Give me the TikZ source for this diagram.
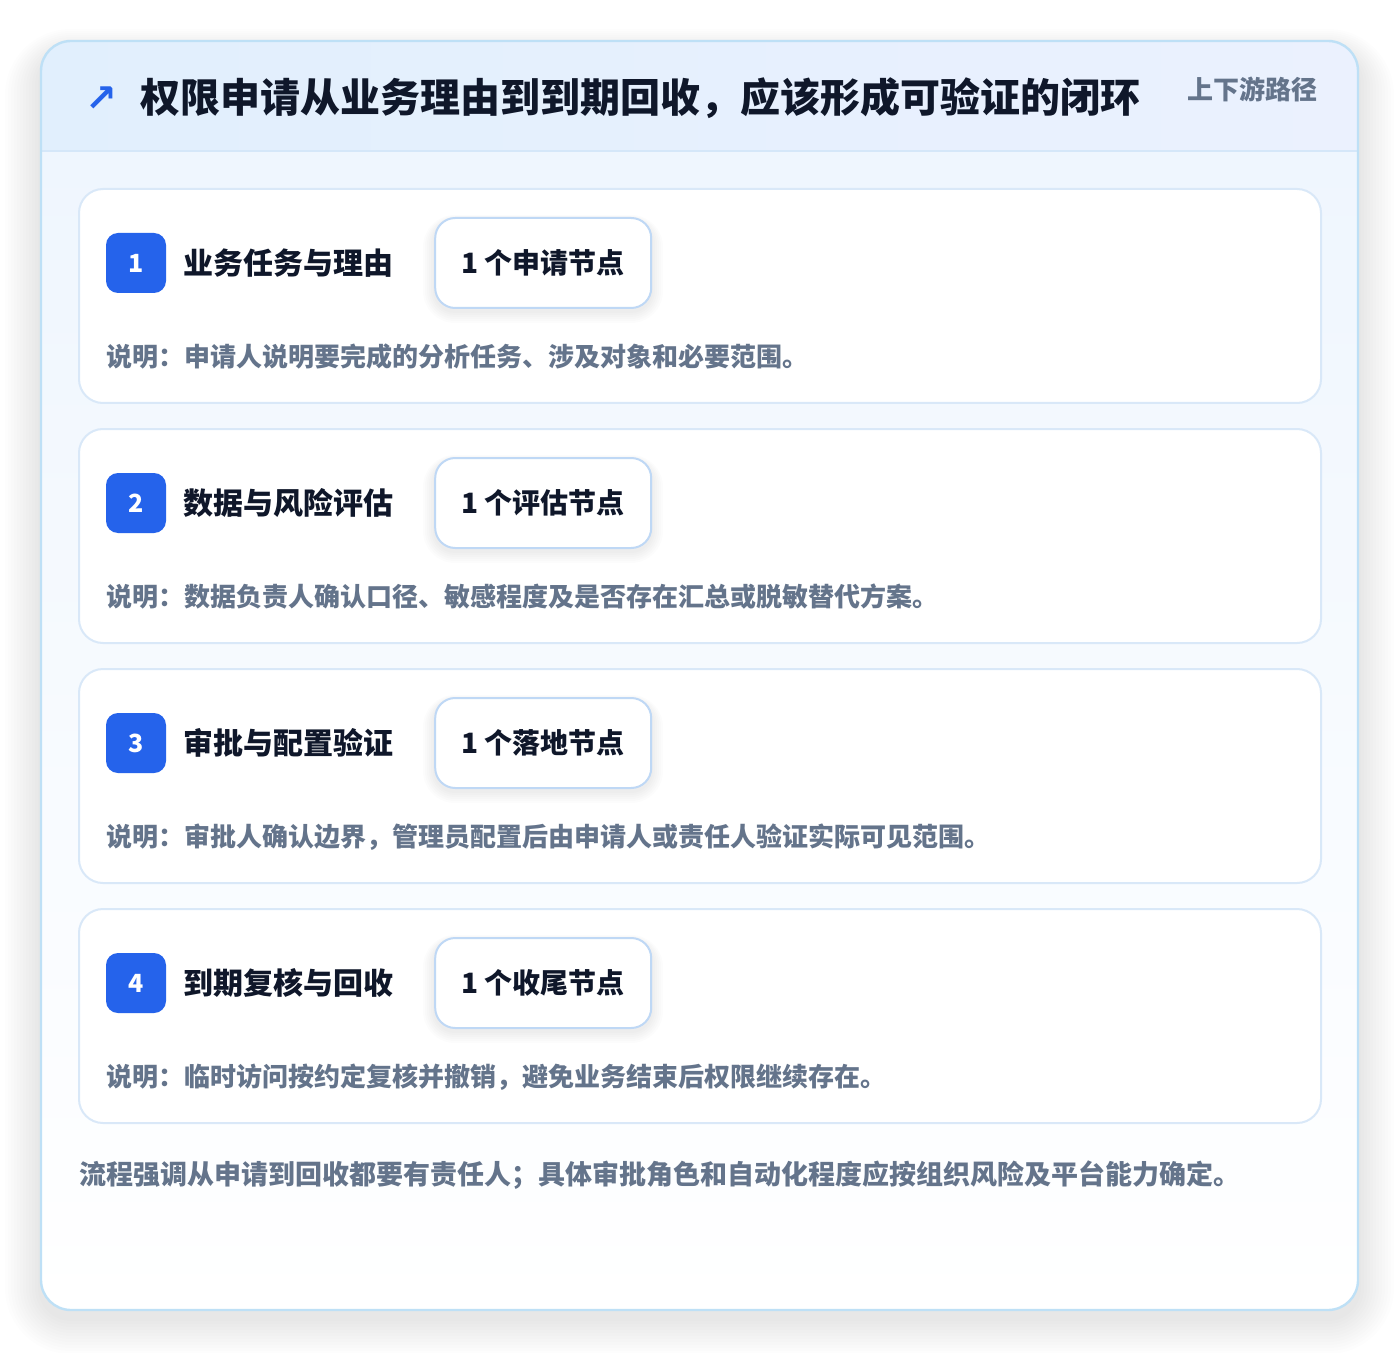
\documentclass[tikz,border=0pt]{standalone}
\usepackage{fontspec}
\setmainfont{Noto Sans CJK SC}
\newfontfamily\symfont{DejaVu Sans}
\usetikzlibrary{positioning}

\definecolor{ink}{HTML}{0F172A}
\definecolor{muted}{HTML}{64748B}
\definecolor{badgeblue}{HTML}{2563EB}
\definecolor{frameline}{HTML}{BEE0F6}
\definecolor{hdrleft}{HTML}{E1EFFD}
\definecolor{hdrright}{HTML}{EBF1FE}
\definecolor{hdrline}{HTML}{D5E7F9}
\definecolor{bodytop}{HTML}{EFF6FE}
\definecolor{cardline}{HTML}{D9E8F8}
\definecolor{pillline}{HTML}{BFD8F5}

\begin{document}
\begin{tikzpicture}[x=0.5pt,y=-0.5pt,
  card/.style={draw=cardline,line width=1pt,fill=white,rounded corners=12pt},
  badge/.style={fill=badgeblue,rounded corners=6pt,minimum size=30pt,inner sep=0pt,text=white,font=\bfseries\fontsize{12.5}{13}\selectfont},
  steptitle/.style={inner sep=0pt,text=ink,font=\bfseries\fontsize{15}{16}\selectfont},
  pill/.style={draw=pillline,line width=1pt,fill=white,rounded corners=10pt,minimum width=108pt,minimum height=45pt,inner sep=0pt,text=ink,font=\bfseries\fontsize{14}{15}\selectfont},
  note/.style={anchor=west,inner sep=0pt,text=muted,font=\bfseries\fontsize{13}{14}\selectfont}]
\useasboundingbox (0,0) rectangle (1400,1352);
\fill[white] (0,0) rectangle (1400,1352);

% soft shadow under the frame
\foreach \k in {1,...,12}
  \fill[black,opacity=0.006,rounded corners=15pt+\k*1.5pt] (41-\k*3,41-\k*2+12) rectangle (1358+\k*3,1310+\k*3+8);

% outer frame with header band
\begin{scope}
\clip[rounded corners=15pt] (41,41) rectangle (1358,1310);
\shade[left color=hdrleft,right color=hdrright] (41,41) rectangle (1358,151);
\shade[top color=bodytop,bottom color=white] (41,151) rectangle (1358,1310);
\draw[hdrline,line width=1pt] (41,151) -- (1358,151);
\end{scope}
\draw[frameline,line width=1.2pt,rounded corners=15pt] (41,41) rectangle (1358,1310);

\node[inner sep=0pt,text=badgeblue,font=\symfont\bfseries\fontsize{19}{19}\selectfont] (icon) at (101,99) {↗};
\node[anchor=west,inner sep=0pt,text=ink,font=\bfseries\fontsize{20}{21}\selectfont] (title) at (140,98) {权限申请从业务理由到到期回收，应该形成可验证的闭环};
\node[anchor=east,inner sep=0pt,text=muted,font=\bfseries\fontsize{13}{14}\selectfont] (tag) at (1318,89) {上下游路径};

% steps
\foreach \i/\name/\count/\desc in {
  1/{业务任务与理由}/{1 个申请节点}/{说明：申请人说明要完成的分析任务、涉及对象和必要范围。},
  2/{数据与风险评估}/{1 个评估节点}/{说明：数据负责人确认口径、敏感程度及是否存在汇总或脱敏替代方案。},
  3/{审批与配置验证}/{1 个落地节点}/{说明：审批人确认边界，管理员配置后由申请人或责任人验证实际可见范围。},
  4/{到期复核与回收}/{1 个收尾节点}/{说明：临时访问按约定复核并撤销，避免业务结束后权限继续存在。}}{
  \pgfmathsetmacro\top{189+240*(\i-1)}
  \draw[card] (79,\top) rectangle (1321,\top+214);
  \node[badge] (badge\i) at (136,\top+74) {\i};
  \node[steptitle,right=8.5pt of badge\i] (step\i) {\name};
  \foreach \k in {1,...,6}
    \fill[black,opacity=0.012,rounded corners=10pt+\k*1pt] (435-\k*2,\top+28-\k+4) rectangle (651+\k*2,\top+118+\k*2+4);
  \node[pill,right=20pt of step\i] (count\i) {\count};
  \node[note] (desc\i) at (106,\top+168) {\desc};
}

\node[note,font=\bfseries\fontsize{13.5}{14}\selectfont] (footer) at (79,1175) {流程强调从申请到回收都要有责任人；具体审批角色和自动化程度应按组织风险及平台能力确定。};
\end{tikzpicture}
\end{document}
